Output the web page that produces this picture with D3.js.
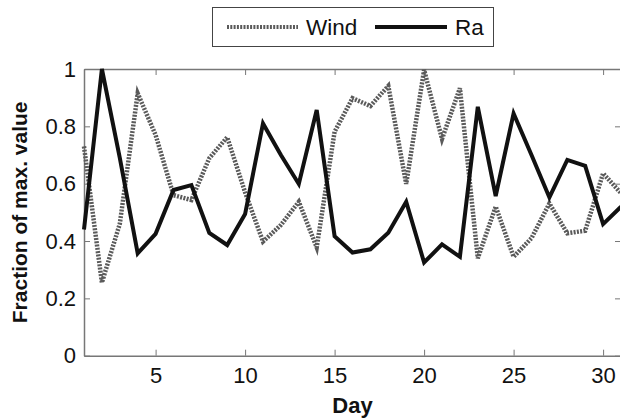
<!DOCTYPE html>
<html>
<head>
<meta charset="utf-8">
<script src="https://cdn.jsdelivr.net/npm/d3@7"></script>
<style>
  body { margin: 0; background: #fff; }
  svg text { font-family: "Liberation Sans", Arial, sans-serif; fill: #111; }
</style>
</head>
<body>
<svg id="chart" width="620" height="419"></svg>
<script>
// data
const days = d3.range(1, 32);
const wind = [0.73, 0.255, 0.46, 0.915, 0.77, 0.56, 0.543, 0.689, 0.762, 0.57,
              0.398, 0.456, 0.537, 0.378, 0.781, 0.898, 0.871, 0.941, 0.599, 0.997,
              0.756, 0.933, 0.34, 0.52, 0.345, 0.41, 0.531, 0.427, 0.436, 0.636, 0.567];
const ra = [0.44, 1.0, 0.69, 0.357, 0.425, 0.578, 0.595, 0.428, 0.386, 0.494,
            0.81, 0.70, 0.599, 0.857, 0.417, 0.36, 0.371, 0.429, 0.537, 0.325,
            0.388, 0.345, 0.868, 0.557, 0.845, 0.70, 0.552, 0.683, 0.662, 0.459, 0.52];
const xTicks = [5, 10, 15, 20, 25, 30];
const yTicks = [0, 0.2, 0.4, 0.6, 0.8, 1];

const drawChart = () => {
    const svg = d3.select('#chart');
    const margin = { top: 69, right: -1, bottom: 63.3, left: 84 };
    const width = +svg.attr('width');
    const height = +svg.attr('height');

    const x = d3.scaleLinear().domain([1, 31]).range([margin.left, width - margin.right]);
    const y = d3.scaleLinear().domain([0, 1]).range([height - margin.bottom, margin.top]);

    const axisColor = '#777';

    // box axes with inward ticks on all four sides
    const addAxis = (gen, transform) => {
        const g = svg.append('g').attr('transform', transform).call(gen);
        g.select('.domain').attr('stroke', axisColor).attr('stroke-width', 1.5);
        g.selectAll('.tick line').attr('stroke', axisColor);
        g.selectAll('.tick text').attr('font-size', 22).attr('fill', '#111');
        return g;
    };

    addAxis(d3.axisBottom(x).tickValues(xTicks).tickSizeInner(-6).tickSizeOuter(0).tickPadding(12),
        `translate(0,${y(0)})`);
    addAxis(d3.axisTop(x).tickValues(xTicks).tickSizeInner(-6).tickSizeOuter(0).tickFormat(''),
        `translate(0,${y(1)})`);
    addAxis(d3.axisLeft(y).tickValues(yTicks).tickSizeInner(-6).tickSizeOuter(0).tickPadding(8)
        .tickFormat(d => d === 0 || d === 1 ? d3.format('d')(d) : d3.format('.1f')(d)),
        `translate(${x(1)},0)`);
    addAxis(d3.axisRight(y).tickValues(yTicks).tickSizeInner(-6).tickSizeOuter(0).tickFormat(''),
        `translate(${x(31)},0)`);

    // lines
    const line = vals => d3.line()
        .x((d, i) => x(days[i]))
        .y(d => y(d))(vals);

    svg.append('path')
        .attr('d', line(wind))
        .attr('fill', 'none')
        .attr('stroke', '#5a5a5a')
        .attr('stroke-width', 4.5)
        .attr('stroke-dasharray', '2,1.3');

    svg.append('path')
        .attr('d', line(ra))
        .attr('fill', 'none')
        .attr('stroke', '#111')
        .attr('stroke-width', 4)
        .attr('stroke-linejoin', 'miter');

    // axis labels
    svg.append('text')
        .attr('x', (x(1) + x(31)) / 2)
        .attr('y', 413)
        .attr('text-anchor', 'middle')
        .attr('font-size', 22)
        .attr('font-weight', 'bold')
        .text('Day');

    svg.append('text')
        .attr('transform', `translate(27,${(y(0) + y(1)) / 2}) rotate(-90)`)
        .attr('text-anchor', 'middle')
        .attr('font-size', 21)
        .attr('font-weight', 'bold')
        .text('Fraction of max. value');

    // legend
    const legend = svg.append('g');
    legend.append('rect')
        .attr('x', 212.5).attr('y', 7.5)
        .attr('width', 281).attr('height', 39)
        .attr('fill', '#fff')
        .attr('stroke', '#444')
        .attr('stroke-width', 1);
    legend.append('line')
        .attr('x1', 227).attr('x2', 298).attr('y1', 27).attr('y2', 27)
        .attr('stroke', '#5a5a5a').attr('stroke-width', 4).attr('stroke-dasharray', '2,1.3');
    legend.append('text')
        .attr('x', 306).attr('y', 34.5)
        .attr('font-size', 22.5)
        .text('Wind');
    legend.append('line')
        .attr('x1', 375).attr('x2', 447).attr('y1', 27).attr('y2', 27)
        .attr('stroke', '#111').attr('stroke-width', 4);
    legend.append('text')
        .attr('x', 455).attr('y', 34.5)
        .attr('font-size', 22.5)
        .text('Ra');
};

drawChart();
</script>
</body>
</html>
